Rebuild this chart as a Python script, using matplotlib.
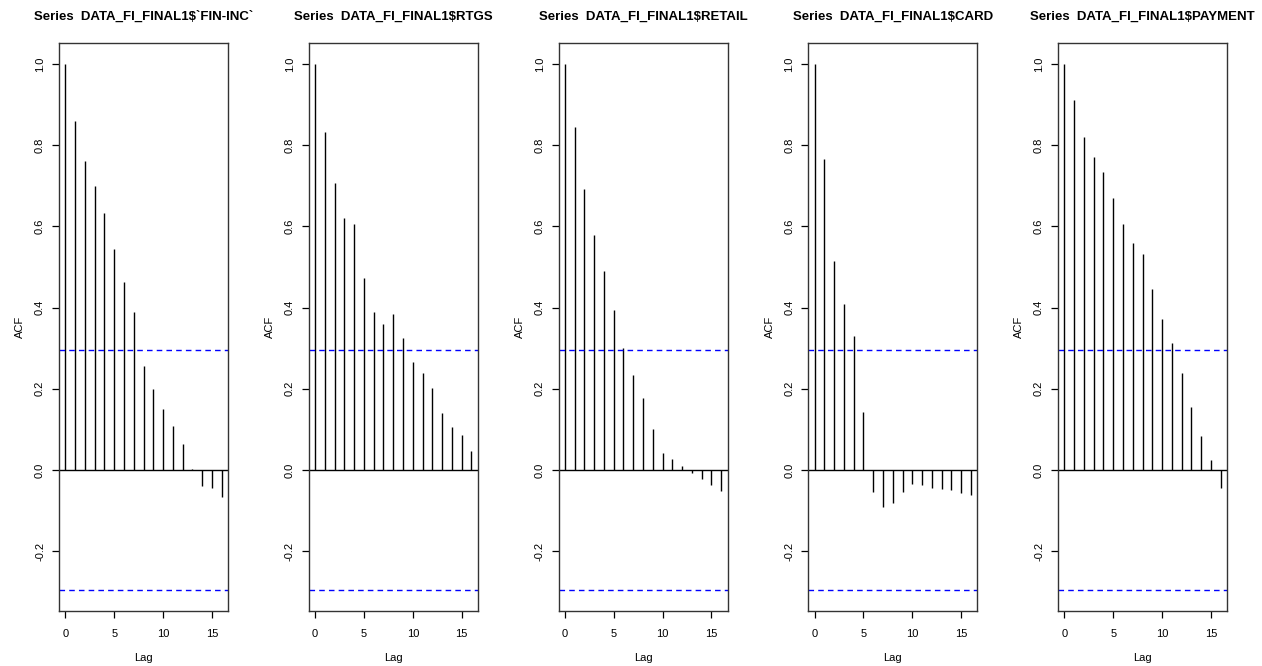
import numpy as np
import matplotlib.pyplot as plt

plt.rcParams['font.family'] = ['Liberation Sans', 'DejaVu Sans']

# ACF values (lags 0..16)
lags = np.arange(17)
titles = ["Series  DATA_FI_FINAL1$`FIN-INC`", "Series  DATA_FI_FINAL1$RTGS",
          "Series  DATA_FI_FINAL1$RETAIL", "Series  DATA_FI_FINAL1$CARD",
          "Series  DATA_FI_FINAL1$PAYMENT"]

acf_fin_inc = [1.0, 0.859, 0.760, 0.700, 0.634, 0.544, 0.464, 0.388, 0.257,
               0.200, 0.151, 0.109, 0.065, 0.002, -0.040, -0.045, -0.067]
acf_rtgs = [1.0, 0.833, 0.707, 0.620, 0.605, 0.474, 0.390, 0.360, 0.385,
            0.325, 0.266, 0.240, 0.202, 0.140, 0.107, 0.087, 0.048]
acf_retail = [1.0, 0.845, 0.693, 0.578, 0.491, 0.393, 0.300, 0.234, 0.177,
              0.100, 0.041, 0.026, 0.011, -0.008, -0.023, -0.038, -0.052]
acf_card = [1.0, 0.766, 0.516, 0.410, 0.331, 0.144, -0.053, -0.092, -0.081,
            -0.055, -0.034, -0.038, -0.044, -0.046, -0.050, -0.056, -0.061]
acf_payment = [1.0, 0.911, 0.821, 0.772, 0.734, 0.670, 0.606, 0.560, 0.532,
               0.447, 0.372, 0.313, 0.240, 0.155, 0.083, 0.024, -0.045]

series = [acf_fin_inc, acf_rtgs, acf_retail, acf_card, acf_payment]
ci = 0.2955  # 1.96 / sqrt(n)

W, H = 1262, 666
fig = plt.figure(figsize=(W / 100, H / 100), dpi=100)

for i, (title, acf) in enumerate(zip(titles, series)):
    left = 59 + 249.75 * i
    ax = fig.add_axes([left / W, 55 / H, 169 / W, 568 / H])
    ax.vlines(lags, 0, acf, color='black', linewidth=1.0)
    ax.axhline(0, color='black', linewidth=1.0)
    ax.axhline(ci, color='blue', linestyle=(0, (4, 3)), linewidth=1.0)
    ax.axhline(-ci, color='blue', linestyle=(0, (4, 3)), linewidth=1.0)

    ax.set_xlim(-0.64, 16.64)
    span = 1 + ci
    ax.set_ylim(-ci - 0.04 * span, 1 + 0.04 * span)

    ax.set_xticks([0, 5, 10, 15])
    ax.set_yticks([-0.2, 0.0, 0.2, 0.4, 0.6, 0.8, 1.0])
    ax.set_yticklabels(['-0.2', '0.0', '0.2', '0.4', '0.6', '0.8', '1.0'],
                       rotation=90, va='center')
    ax.tick_params(axis='x', labelsize=8, length=5, width=0.9,
                   direction='out', pad=8)
    ax.tick_params(axis='y', labelsize=8, length=5, width=0.9,
                   direction='out', pad=5)
    for sp in ax.spines.values():
        sp.set_linewidth(1.0)
        sp.set_color('#333333')

    ax.set_title(title, fontsize=9.5, fontweight='bold', pad=16.5)
    ax.set_xlabel('Lag', fontsize=8, labelpad=10)
    ax.set_ylabel('ACF', fontsize=8, labelpad=7)

fig.savefig('out.png', dpi=100)
